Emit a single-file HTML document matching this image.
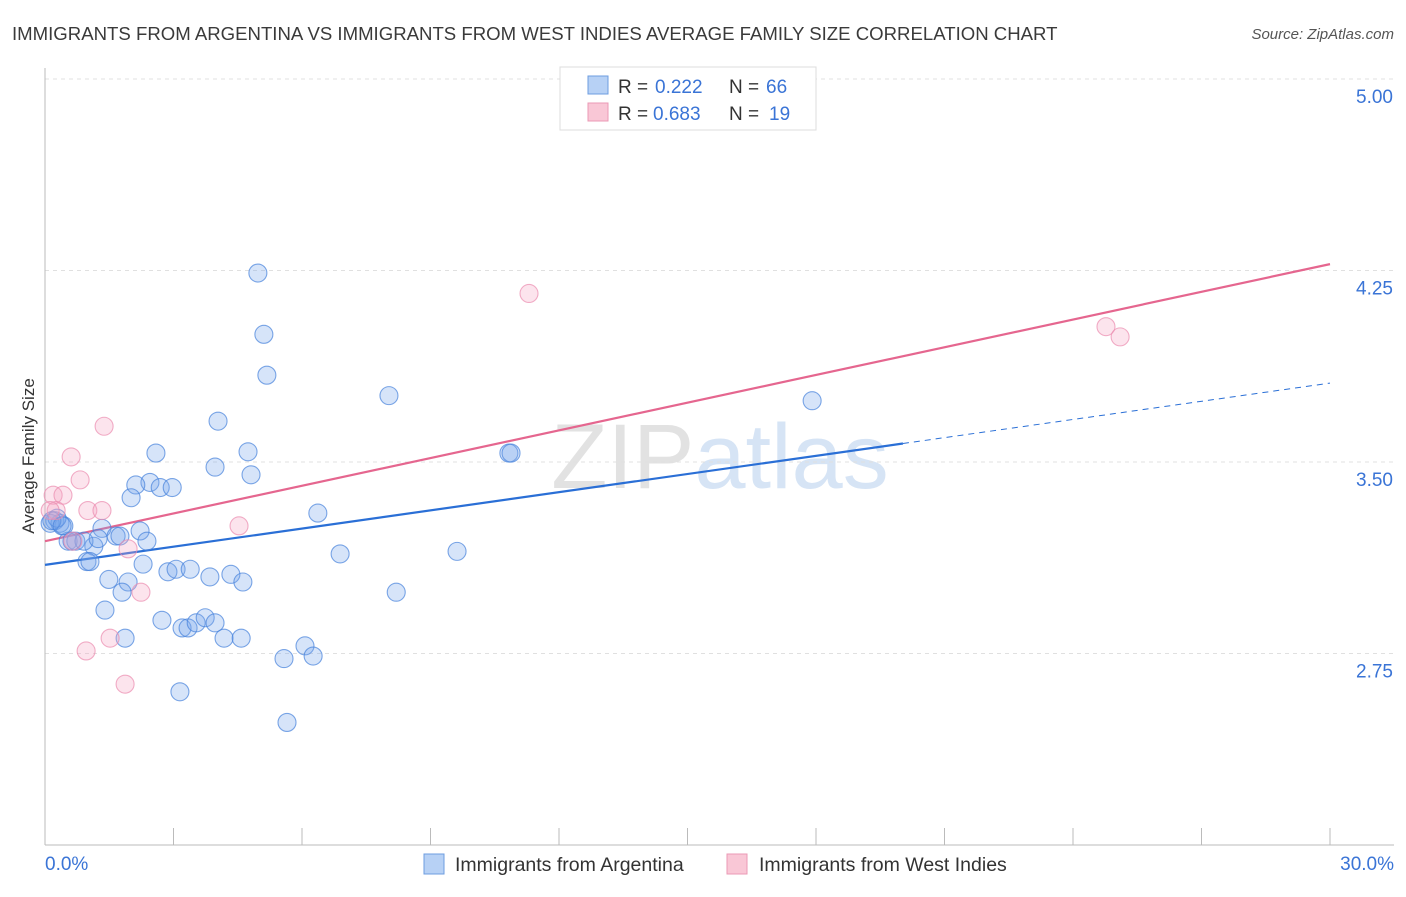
<!DOCTYPE html>
<html><head><meta charset="utf-8"><style>
body{margin:0;background:#fff;font-family:"Liberation Sans",sans-serif}
svg text{font-family:"Liberation Sans",sans-serif}
</style></head><body>
<svg id="chart" width="1406" height="892" xmlns="http://www.w3.org/2000/svg">
<text x="12" y="40" font-size="18.6" fill="#3a3a3a">IMMIGRANTS FROM ARGENTINA VS IMMIGRANTS FROM WEST INDIES AVERAGE FAMILY SIZE CORRELATION CHART</text>
<text x="1394" y="39" font-size="15" fill="#555" text-anchor="end" font-style="italic">Source: ZipAtlas.com</text>
<text x="720" y="488" font-size="92" text-anchor="middle" fill="#e6e6e6" font-family="Liberation Serif"><tspan fill="#e2e2e2">ZIP</tspan><tspan fill="#d6e4f5" font-family="Liberation Sans">atlas</tspan></text>
<g id="grid"></g><g id="axes"></g><g id="lines"></g><g id="pts"></g>
<text transform="translate(34,456) rotate(-90)" font-size="17" fill="#333" text-anchor="middle">Average Family Size</text>
<g>
<rect x="560" y="67" width="256" height="63" fill="#fff" stroke="#ddd"/>
<rect x="588" y="76" width="20" height="18" fill="#b7d1f5" stroke="#6d9de0"/>
<rect x="588" y="103" width="20" height="18" fill="#f9c7d6" stroke="#eb9ab5"/>
<text x="618" y="93" font-size="19" fill="#333">R =</text>
<text x="655" y="93" font-size="19" fill="#3a74d6">0.222</text>
<text x="729" y="93" font-size="19" fill="#333">N =</text>
<text x="766" y="93" font-size="19" fill="#3a74d6">66</text>
<text x="618" y="120" font-size="19" fill="#333">R =</text>
<text x="653" y="120" font-size="19" fill="#3a74d6">0.683</text>
<text x="729" y="120" font-size="19" fill="#333">N =</text>
<text x="769" y="120" font-size="19" fill="#3a74d6">19</text>
</g>
<g>
<rect x="424" y="854" width="20" height="20" fill="#b7d1f5" stroke="#6d9de0"/>
<text x="455" y="871" font-size="19.5" fill="#333">Immigrants from Argentina</text>
<rect x="727" y="854" width="20" height="20" fill="#f9c7d6" stroke="#eb9ab5"/>
<text x="759" y="871" font-size="19.5" fill="#333">Immigrants from West Indies</text>
</g>
</svg>
<script>
const yTicks=[2.75,3.5,4.25,5.0];
const yTickLabels=["2.75","3.50","4.25","5.00"];
const xTickVals=[0,3,6,9,12,15,18,21,24,27,30];
const argX=[4.97,5.11,5.18,8.03,4.04,2.59,4.74,10.83,10.88,3.97,4.81,2.45,2.12,2.69,2.97,2.01,6.37,17.91,1.33,2.22,1.66,1.75,2.38,1.14,0.54,0.72,0.91,6.89,9.62,0.98,1.05,2.29,2.87,3.06,3.39,3.85,4.34,4.62,1.49,1.94,1.80,8.20,1.40,2.73,3.20,3.34,3.53,3.74,3.97,4.18,4.58,1.87,6.07,6.26,5.58,3.15,5.65,0.23,0.35,0.44,0.12,0.28,0.16,0.63,1.24,0.40];
const argY=[4.24,4.00,3.84,3.76,3.66,3.535,3.54,3.535,3.535,3.48,3.45,3.42,3.41,3.40,3.40,3.36,3.30,3.74,3.24,3.23,3.21,3.21,3.19,3.17,3.19,3.19,3.19,3.14,3.15,3.11,3.11,3.10,3.07,3.08,3.08,3.05,3.06,3.03,3.04,3.03,2.99,2.99,2.92,2.88,2.85,2.85,2.87,2.89,2.87,2.81,2.81,2.81,2.78,2.74,2.73,2.60,2.48,3.27,3.26,3.25,3.26,3.28,3.27,3.19,3.20,3.25];
const wiX=[11.30,24.77,25.10,1.38,0.61,0.82,0.19,0.42,0.26,1.00,1.33,1.94,4.53,2.24,1.52,0.96,1.87,0.65,0.12];
const wiY=[4.16,4.03,3.99,3.64,3.52,3.43,3.37,3.37,3.31,3.31,3.31,3.16,3.25,2.99,2.81,2.76,2.63,3.19,3.31];
const argTrend=[3.097,3.809]; const argSolidEnd=20.03;
const wiTrend=[3.19,4.275];
const NS='http://www.w3.org/2000/svg';
const X=v=>45+v/30*1285, Y=v=>845-(v-2)/3*766;
function mk(t,a,p){const e=document.createElementNS(NS,t);for(const k in a)e.setAttribute(k,a[k]);document.getElementById(p).appendChild(e);return e;}
yTicks.forEach((t,i)=>{
 const l=mk('line',{x1:45,x2:1394,y1:Y(t),y2:Y(t),stroke:'#e0e0e0','stroke-dasharray':'4,4'},'grid');
 
 
 const tx=mk('text',{x:1393,y:Y(t)+24,'font-size':19,fill:'#3a74d6','text-anchor':'end'},'grid');
 tx.textContent=yTickLabels[i];
 
 
});
const ax=mk('line',{x1:45,x2:1394,y1:845,y2:845,stroke:'#bbb'},'axes');


const ay=mk('line',{x1:45,x2:45,y1:68,y2:845,stroke:'#bbb'},'axes');


xTickVals.forEach(v=>{const t=mk('line',{x1:X(v),x2:X(v),y1:828,y2:845,stroke:'#bbb'},'axes');
 
 });
[[0,'0.0%','start',45],[30,'30.0%','end',1394]].forEach(a=>{const t=mk('text',{x:a[3],y:870,'font-size':19,fill:'#3a74d6','text-anchor':a[2]},'axes');t.textContent=a[1];
 
 });
const aT=v=>argTrend[0]+(argTrend[1]-argTrend[0])*v/30;
const l1=mk('line',{x1:X(0),y1:Y(aT(0)),x2:X(argSolidEnd),y2:Y(aT(argSolidEnd)),stroke:'#2a6fd6','stroke-width':2.2},'lines');


const l2=mk('line',{x1:X(argSolidEnd),y1:Y(aT(argSolidEnd)),x2:X(30),y2:Y(aT(30)),stroke:'#2a6fd6','stroke-width':1,'stroke-dasharray':'6,5'},'lines');


const l3=mk('line',{x1:X(0),y1:Y(wiTrend[0]),x2:X(30),y2:Y(wiTrend[1]),stroke:'#e5668f','stroke-width':2.2},'lines');


argX.forEach((v,i)=>{const c=mk('circle',{cx:X(v),cy:Y(argY[i]),r:9,fill:'rgba(120,165,235,0.3)',stroke:'rgba(70,130,220,0.7)','stroke-width':1.1},'pts');
 
 });
wiX.forEach((v,i)=>{const c=mk('circle',{cx:X(v),cy:Y(wiY[i]),r:9,fill:'rgba(245,165,195,0.3)',stroke:'rgba(235,140,175,0.7)','stroke-width':1.1},'pts');
 
 });
</script>
</body></html>
